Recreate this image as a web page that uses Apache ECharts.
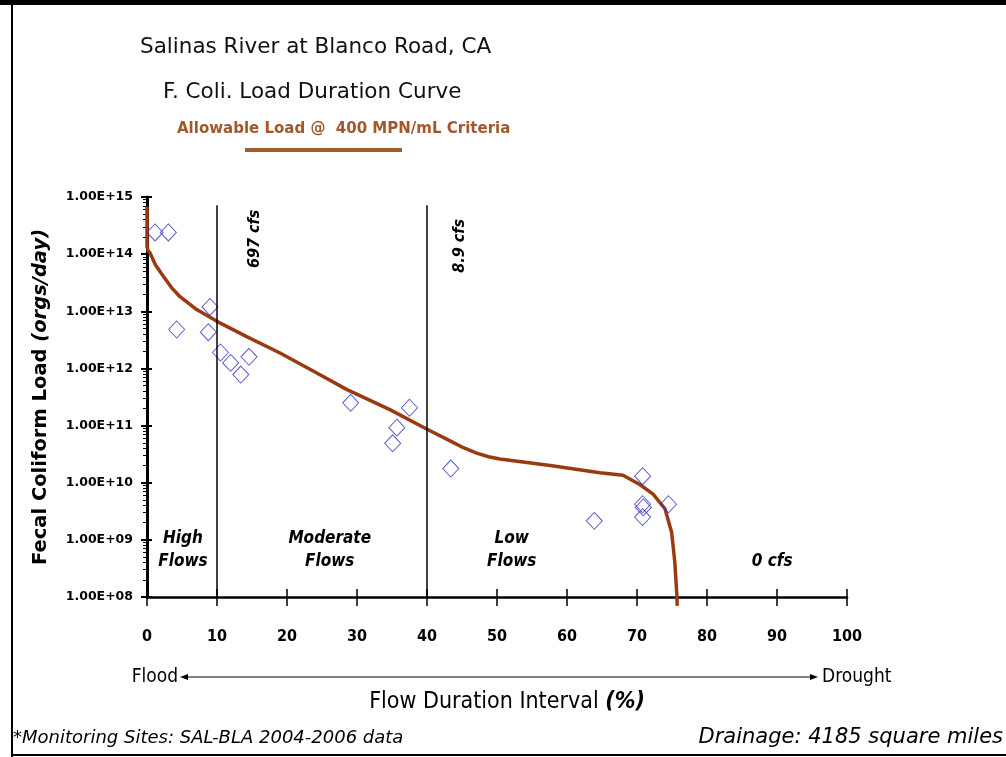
<!DOCTYPE html>
<html>
<head>
<meta charset="utf-8">
<script src="https://cdn.jsdelivr.net/npm/echarts@6/dist/echarts.min.js"></script>
<style>html,body{margin:0;padding:0;background:#fff}#c{width:1006px;height:757px}</style>
</head>
<body>
<div id="c"></div>
<script>
// ---- data ----
const curveX = [0, 0, 0.15, 0.43, 1.2, 2.33, 3.5, 4.71, 7.1, 10.05, 14.24, 19, 23.8, 28.5, 34.7, 39.8, 43.3, 45.2, 47.1, 48.8, 50.4, 57.6, 64.7, 68.0, 70.4, 72.3, 74.0, 74.95, 75.4, 75.7, 75.75];
const curveY = [6.8e14, 1.35e14, 1.15e14, 1.05e14, 6.5e13, 4.1e13, 2.6e13, 1.8e13, 1.07e13, 6.6e12, 3.6e12, 1.86e12, 8.9e11, 4.3e11, 1.9e11, 8.9e10, 5.4e10, 4.1e10, 3.3e10, 2.85e10, 2.6e10, 2.0e10, 1.5e10, 1.35e10, 9.3e9, 6.3e9, 3.5e9, 1.35e9, 4.1e8, 1.05e8, 7e7];
const obsX = [1.14, 3.05, 4.24, 9.0, 8.76, 10.5, 11.95, 13.4, 14.57, 29.1, 37.5, 35.7, 35.1, 43.4, 63.9, 70.8, 70.8, 70.9, 70.8, 74.5];
const obsY = [2.4e14, 2.4e14, 4.8e12, 1.19e13, 4.3e12, 1.9e12, 1.25e12, 7.8e11, 1.6e12, 2.5e11, 2.05e11, 9.2e10, 4.9e10, 1.77e10, 2.15e9, 1.3e10, 4.2e9, 3.7e9, 2.5e9, 4.2e9];
const zoneBounds = [10, 40];
const xTicks = [0, 100, 10];
const yRange = [1e8, 1e15];
const zoneLabels = ['High\nFlows', 'Moderate\nFlows', 'Low\nFlows', '0 cfs'];
const zoneLabelX = [5.14, 26.1, 52.1, 89.3];
const zoneLabelY = [6.5e8, 6.5e8, 6.5e8, 4.1e8];
const cfsLabels = ['697 cfs', '8.9 cfs'];
const cfsLabelX = [15.4, 44.7];
const cfsLabelY = [1.85e14, 1.4e14];

const brown = '#9a3a10';
const blue = '#3535c0';
const fontMain = '"DejaVu Sans", sans-serif';
const fontCond = '"DejaVu Sans Condensed", "DejaVu Sans", sans-serif';

const chart = echarts.init(document.getElementById('c'));

const curveData = curveX.map((x, i) => [x, curveY[i]]);
const obsData = obsX.map((x, i) => [x, obsY[i]]);

function expLabel(v) {
  const e = Math.round(Math.log10(v));
  return '1.00E+' + String(e).padStart(2, '0');
}

const frameGraphics = [
  { type: 'rect', shape: { x: 0, y: 0, width: 1006, height: 5 }, style: { fill: '#000' } },
  { type: 'line', shape: { x1: 12, y1: 0, x2: 12, y2: 757 }, style: { stroke: '#000', lineWidth: 2 } },
  { type: 'line', shape: { x1: 12, y1: 755, x2: 1006, y2: 755 }, style: { stroke: '#000', lineWidth: 2 } },
  { type: 'line', shape: { x1: 245, y1: 150, x2: 402, y2: 150 }, style: { stroke: '#a0602e', lineWidth: 4 } },
  { type: 'text', x: 178, y: 677, style: { text: 'Flood', font: '19px ' + fontCond, fill: '#000', align: 'right', verticalAlign: 'middle' } },
  { type: 'line', shape: { x1: 186, y1: 677, x2: 812, y2: 677 }, style: { stroke: '#000', lineWidth: 1 } },
  { type: 'polygon', shape: { points: [[180, 677], [188, 674], [188, 680]] }, style: { fill: '#000' } },
  { type: 'polygon', shape: { points: [[818, 677], [810, 674], [810, 680]] }, style: { fill: '#000' } },
  { type: 'text', x: 822, y: 677, style: { text: 'Drought', font: '19px ' + fontCond, fill: '#000', verticalAlign: 'middle' } },
  { type: 'text', x: 13, y: 738, style: { text: '*Monitoring Sites: SAL-BLA 2004-2006 data', font: 'italic 18px ' + fontMain, fill: '#000', verticalAlign: 'middle' } },
  { type: 'text', x: 1003, y: 738, style: { text: 'Drainage: 4185 square miles', font: 'italic 21px ' + fontMain, fill: '#000', align: 'right', verticalAlign: 'middle' } }
];

chart.setOption({
  animation: false,
  backgroundColor: '#fff',
  title: [
    { text: 'Salinas River at Blanco Road, CA', left: 140, top: 36, padding: 0,
      textStyle: { fontFamily: fontMain, fontSize: 21.5, fontWeight: 'normal', color: '#111' } },
    { text: 'F. Coli. Load Duration Curve', left: 163, top: 81, padding: 0,
      textStyle: { fontFamily: fontMain, fontSize: 21.5, fontWeight: 'normal', color: '#111' } },
    { text: 'Allowable Load @  400 MPN/mL Criteria', left: 177, top: 122, padding: 0,
      textStyle: { fontFamily: fontMain, fontSize: 15, fontWeight: 'bold', color: '#a0582c' } }
  ],
  grid: { left: 147, right: 159, top: 197, bottom: 160, containLabel: false },
  xAxis: [
    { type: 'value', min: xTicks[0], max: xTicks[1], interval: xTicks[2],
      splitLine: { show: false },
      axisLine: { lineStyle: { color: '#000', width: 2.5 } },
      axisTick: { length: 9, lineStyle: { color: '#000', width: 1.5 } },
      axisLabel: { margin: 32, fontFamily: fontCond, fontWeight: 'bold', fontSize: 16, color: '#000' },
      name: '{a|Flow Duration Interval }{b|(%)}', nameLocation: 'middle', nameGap: 94,
      nameTextStyle: { padding: [0, 0, 0, 20], rich: {
        a: { fontFamily: fontCond, fontSize: 23, color: '#000' },
        b: { fontFamily: fontCond, fontSize: 23, color: '#000', fontStyle: 'italic', fontWeight: 'bold' } } } },
    { type: 'value', min: xTicks[0], max: xTicks[1], interval: xTicks[2], position: 'bottom',
      splitLine: { show: false }, axisLine: { show: false },
      axisTick: { inside: true, length: 8, lineStyle: { color: '#000', width: 1.5 } },
      axisLabel: { show: false } }
  ],
  yAxis: [
    { type: 'log', logBase: 10, min: yRange[0], max: yRange[1], splitNumber: 7,
      splitLine: { show: false },
      axisLine: { lineStyle: { color: '#000', width: 3 } },
      axisTick: { length: 6, lineStyle: { color: '#000', width: 2 } },
      minorTick: { show: true, splitNumber: 9, length: 4, lineStyle: { color: '#000', width: 1 } },
      axisLabel: { margin: 14, formatter: expLabel, fontFamily: fontMain, fontWeight: 'bold', fontSize: 12.5, color: '#000' },
      name: '{a|Fecal Coliform Load }{b|(orgs/day)}', nameLocation: 'middle', nameGap: 96,
      nameTextStyle: { rich: {
        a: { fontFamily: fontMain, fontSize: 19.5, fontWeight: 'bold', color: '#000' },
        b: { fontFamily: fontMain, fontSize: 19.5, fontWeight: 'bold', fontStyle: 'italic', color: '#000' } } } },
    { type: 'log', logBase: 10, min: yRange[0], max: yRange[1], splitNumber: 7, position: 'left',
      splitLine: { show: false }, axisLine: { show: false },
      axisTick: { inside: true, length: 5, lineStyle: { color: '#000', width: 2 } },
      axisLabel: { show: false } }
  ],
  series: [
    { name: 'Allowable Load @ 400 MPN/mL Criteria', type: 'line', data: curveData, clip: false,
      symbol: 'none', lineStyle: { color: brown, width: 3.5 }, z: 3 },
    { name: 'Observed', type: 'scatter', data: obsData, symbol: 'diamond', symbolSize: [16, 17],
      itemStyle: { color: 'rgba(0,0,0,0)', borderColor: blue, borderWidth: 1 }, z: 4,
      markLine: { silent: true, symbol: 'none', label: { show: false },
        lineStyle: { color: '#000', width: 1.5, type: 'solid' },
        data: zoneBounds.map(b => [{ coord: [b, 7.2e14] }, { coord: [b, yRange[0]] }]) } }
  ],
  graphic: frameGraphics
});

// annotation texts anchored to data coordinates through the chart's own axes
const annGraphics = [];
zoneLabels.forEach((t, i) => {
  const p = chart.convertToPixel({ gridIndex: 0 }, [zoneLabelX[i], zoneLabelY[i]]);
  annGraphics.push({ type: 'text', x: p[0], y: p[1], z: 10,
    style: { text: t, font: 'italic bold 17px ' + fontCond, fill: '#000', align: 'center', verticalAlign: 'middle', lineHeight: 23 } });
});
cfsLabels.forEach((t, i) => {
  const p = chart.convertToPixel({ gridIndex: 0 }, [cfsLabelX[i], cfsLabelY[i]]);
  annGraphics.push({ type: 'text', x: p[0], y: p[1], rotation: Math.PI / 2, z: 10,
    style: { text: t, font: 'italic bold 16px ' + fontCond, fill: '#000', align: 'center', verticalAlign: 'middle' } });
});
chart.setOption({ graphic: frameGraphics.concat(annGraphics) }, { replaceMerge: ['graphic'] });
</script>
</body>
</html>
